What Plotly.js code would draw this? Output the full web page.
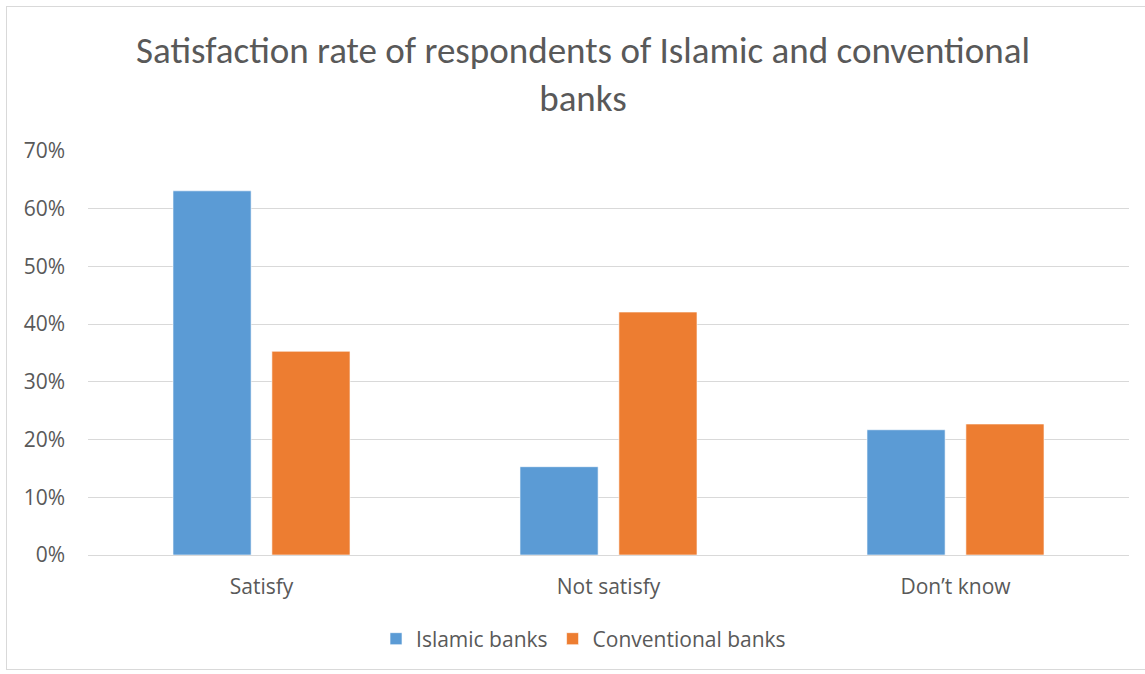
<!DOCTYPE html>
<html>
<head>
<meta charset="utf-8">
<script src="https://cdn.plot.ly/plotly-3.0.1.min.js"></script>
<style>
  html, body { margin: 0; padding: 0; background: #fff; }
  #wrap { position: relative; width: 1145px; height: 674px; overflow: hidden; }
  #frame { position: absolute; left: 6px; top: 6px; width: 1150px; height: 664px; border: 1px solid #d9d9d9; box-sizing: border-box; pointer-events: none; }
  #chart { position: absolute; left: 0; top: 0; width: 1145px; height: 674px; }
</style>
</head>
<body>
<div id="wrap">
  <div id="chart"></div>
  <div id="frame"></div>
</div>
<script>
const categories = ["Satisfy", "Not satisfy", "Don\u2019t know"];
const islamicBanks = [0.631, 0.153, 0.217];
const conventionalBanks = [0.353, 0.421, 0.227];
const seriesNames = ["Islamic banks", "Conventional banks"];
const yTickValues = [0, 0.1, 0.2, 0.3, 0.4, 0.5, 0.6, 0.7];

const textColor = "#595959";
const titleFont = "Carlito, Calibri, 'Liberation Sans Narrow', sans-serif";
const font = "'Open Sans', sans-serif";

const traces = [
  { type: "bar", name: seriesNames[0], x: categories, y: islamicBanks,
    marker: { color: "#5B9BD5", line: { color: "rgba(255,255,255,0.6)", width: 1 } }, hoverinfo: "none" },
  { type: "bar", name: seriesNames[1], x: categories, y: conventionalBanks,
    marker: { color: "#ED7D31", line: { color: "rgba(255,255,255,0.6)", width: 1 } }, hoverinfo: "none" }
];

const layout = {
  width: 1145, height: 674,
  paper_bgcolor: "rgba(0,0,0,0)", plot_bgcolor: "#fff",
  margin: { l: 88, r: 16, t: 151, b: 119 },
  font: { family: font, color: textColor, size: 21 },
  title: {
    text: "Satisfaction rate of respondents of Islamic and conventional<br>banks",
    font: { family: titleFont, size: 37, color: textColor, weight: 300 },
    x: 0.4755, xanchor: "center", xref: "paper",
    y: 0.907, yanchor: "top", yref: "container"
  },
  barmode: "group",
  bargap: 0.43,
  bargroupgap: 0.21,
  xaxis: {
    type: "category", showgrid: false, zeroline: false, showline: false,
    ticks: "", ticklabelstandoff: 17,
    tickfont: { family: font, size: 21, color: textColor }
  },
  yaxis: {
    range: [0, 0.7], tickvals: yTickValues, tickformat: ".0%",
    showgrid: true, gridcolor: "#d9d9d9", gridwidth: 1,
    zeroline: true, zerolinecolor: "#d9d9d9", zerolinewidth: 1,
    showline: false, ticks: "", ticklabelstandoff: 22,
    tickfont: { family: font, size: 21, color: textColor }
  },
  showlegend: true,
  legend: {
    orientation: "h", x: 0.476, xanchor: "center", y: -0.208, yanchor: "middle",
    font: { family: font, size: 21, color: textColor },
    itemwidth: 30, traceorder: "normal"
  }
};

Plotly.newPlot("chart", traces, layout, { staticPlot: true, displayModeBar: false });
</script>
</body>
</html>
